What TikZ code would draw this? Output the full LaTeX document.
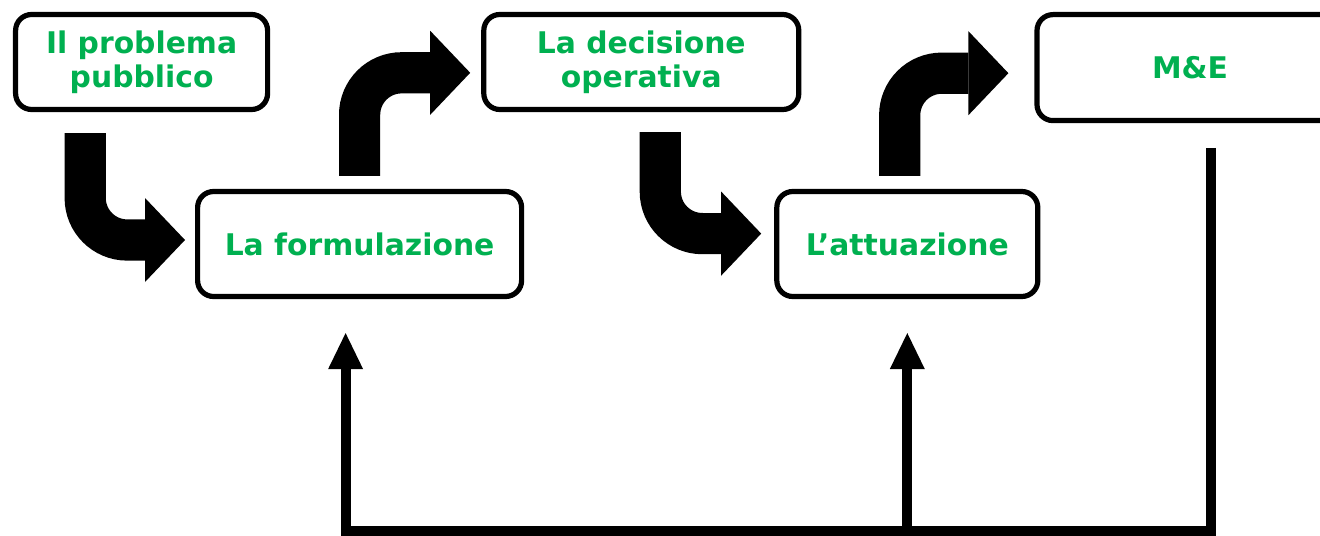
\documentclass[tikz,border=0pt]{standalone}
\usepackage{fontspec}
\setmainfont{DejaVu Sans}
\usetikzlibrary{arrows.meta, positioning}
\definecolor{textgreen}{RGB}{0,176,80}

\begin{document}
\begin{tikzpicture}[
    box/.style={rectangle, rounded corners=0.4cm, draw=black, line width=0.13cm, fill=white, inner sep=0pt, align=center, text=textgreen, font=\fontsize{21.2}{24.5}\selectfont\bfseries},
    bent/.style={line width=1.03cm, rounded corners=1.05cm, -{Triangle[length=1cm, width=2.1cm, line width=0pt]}},
    back/.style={line width=0.25cm, -{Triangle[length=0.9cm, width=0.875cm, line width=0pt]}}
  ]
    \useasboundingbox (0,0) rectangle (33,-13.4);
    \node[box, minimum width=6.3cm, minimum height=2.375cm] (prob) at (3.54,-1.55) {Il problema\\pubblico};
    \node[box, minimum width=7.875cm, minimum height=2.375cm, right=5.275cm of prob] (deci) {La decisione\\operativa};
    \node[box, minimum width=7.65cm, minimum height=2.65cm, right=5.825cm of deci, yshift=-0.14cm] (me) {M\&E};
    \node[box, minimum width=8.1cm, minimum height=2.625cm] (form) at (8.99,-6.1) {La formulazione};
    \node[box, minimum width=6.525cm, minimum height=2.625cm, right=6.25cm of form] (attu) {L’attuazione};
    % bent arrows between the steps
    \draw[bent] ([shift={(-1.41,-0.525)}]prob.south) |- ([shift={(-0.25,0.1)}]form.west);
    \draw[bent] ([yshift=0.325cm]form.north) |- ([shift={(-0.275,-0.27)}]deci.west);
    \draw[bent] ([shift={(0.475,-0.5)}]deci.south) |- ([shift={(-0.325,0.26)}]attu.west);
    \draw[bent] ([shift={(-0.19,0.325)}]attu.north) |- ([shift={(-0.65,-0.14)}]me.west);
    % feedback from M&E
    \coordinate (mebot) at (30.275,-3.7);
    \coordinate (base) at (0,-13.275);
    \coordinate (ftip) at ([shift={(-0.35,-0.85)}]form.south);
    \coordinate (atip) at ([yshift=-0.85cm]attu.south);
    \draw[back] (mebot) |- (ftip |- base) -- (ftip);
    \draw[back] (atip |- base) -- (atip);
\end{tikzpicture}
\end{document}
